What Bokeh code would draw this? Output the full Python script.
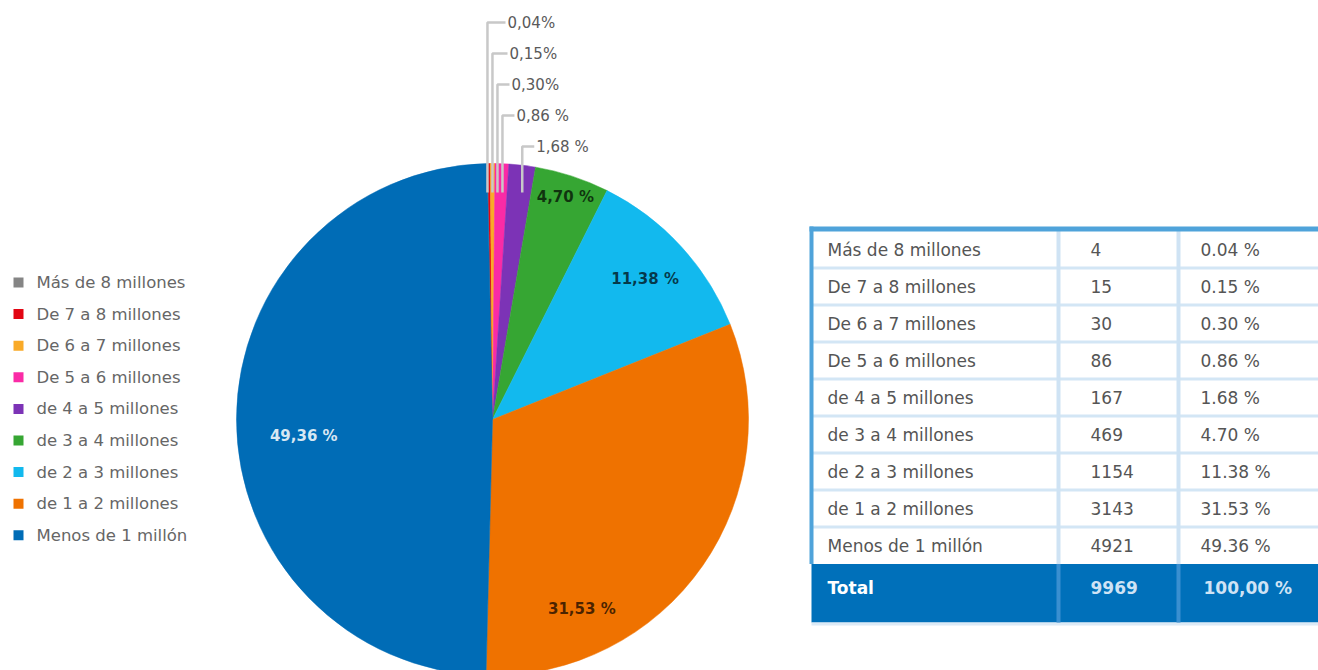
import math
from bokeh.plotting import figure
from bokeh.models import ColumnDataSource, Range1d
from bokeh.core.properties import value
from bokeh.embed import file_html
from bokeh.resources import INLINE

# ---------------- data ----------------
categories = ["Más de 8 millones", "De 7 a 8 millones", "De 6 a 7 millones",
              "De 5 a 6 millones", "de 4 a 5 millones", "de 3 a 4 millones",
              "de 2 a 3 millones", "de 1 a 2 millones", "Menos de 1 millón"]
counts = [4, 15, 30, 86, 167, 469, 1154, 3143, 4921]
pct_table = ["0.04 %", "0.15 %", "0.30 %", "0.86 %", "1.68 %",
             "4.70 %", "11.38 %", "31.53 %", "49.36 %"]
pie_labels = ["0,04%", "0,15%", "0,30%", "0,86 %", "1,68 %",
              "4,70 %", "11,38 %", "31,53 %", "49,36 %"]
total_row = ["Total", "9969", "100,00 %"]
colors = ["#858585", "#e20613", "#f9aa28", "#fa2ba6", "#7c33b6",
          "#36a633", "#12b9ee", "#ef7200", "#006cb6"]

FONT = value("DejaVu Sans")
W, H = 1318, 670


def Y(v):
    return H - v


p = figure(width=W, height=H, x_range=Range1d(0, W), y_range=Range1d(0, H),
           output_backend="svg", toolbar_location=None,
           x_axis_type=None, y_axis_type=None, min_border=0,
           outline_line_color=None)
p.background_fill_color = "white"
p.border_fill_color = "white"

# ---------------- pie ----------------
CX, CY, R = 492, 419, 256
ROT = -1.2  # degrees
total = sum(counts)
cum = [0.0]
for c in counts:
    cum.append(cum[-1] + c / total)

starts, ends, mids = [], [], []
for i in range(len(counts)):
    t0 = 360 * cum[i] + ROT
    t1 = 360 * cum[i + 1] + ROT
    starts.append(math.pi / 2 - math.radians(t1))
    ends.append(math.pi / 2 - math.radians(t0))
    mids.append((t0 + t1) / 2)

pie_src = ColumnDataSource(dict(x=[CX] * len(counts), y=[Y(CY)] * len(counts),
                                s=starts, e=ends, c=colors))
p.wedge(x="x", y="y", radius=R, start_angle="s", end_angle="e",
        fill_color="c", line_color="c", line_width=0.5, source=pie_src)

# outer leader labels (small slices)
xs, ys, tx, ty, tt = [], [], [], [], []
prev = -1e9
for i in range(5):
    vx = CX + R * math.sin(math.radians(mids[i]))
    vx = max(vx, prev + 5)
    prev = vx
    ly = 22 + 31 * i
    hx = max(vx + 12, 505 + 2 * i)
    xs.append([vx, vx, hx])
    ys.append([Y(192), Y(ly), Y(ly)])
    tx.append(hx + 2)
    ty.append(Y(ly))
    tt.append(pie_labels[i])
p.multi_line(xs=xs, ys=ys, line_color="#c8c8c8", line_width=2.5)
p.text(x=tx, y=ty, text=tt, text_font=FONT, text_font_size="15px",
       text_color="#5a5a5a", text_align="left", text_baseline="middle")

# inner labels
r_fac = [0.914, 0.81, 0.82, 0.74]
a_off = [0, 0, 30, -5]
ix, iy, it, ic, ia = [], [], [], [], []
for k, i in enumerate(range(5, 9)):
    a = math.radians(mids[i] + a_off[k])
    ix.append(CX + R * r_fac[k] * math.sin(a))
    iy.append(Y(CY - R * r_fac[k] * math.cos(a)))
    it.append(pie_labels[i])
    ic.append("white" if i == 8 else "black")
    ia.append(0.85 if i == 8 else 0.7)
p.text(x=ix, y=iy, text=it, text_color=ic, text_alpha=ia, text_font=FONT,
       text_font_size="15px", text_font_style="bold", text_align="center",
       text_baseline="middle")

# ---------------- legend ----------------
lg_y = [Y(282 + 31.6 * i) for i in range(len(categories))]
p.rect(x=[18] * len(categories), y=lg_y, width=10, height=10,
       fill_color=colors, line_color=None)
p.text(x=[36] * len(categories), y=lg_y, text=categories, text_font=FONT,
       text_font_size="16.5px", text_color="#666666", text_align="left",
       text_baseline="middle")

# ---------------- table ----------------
TL, TR = 811, W
ROW0, RH = 230.5, 37
n = len(categories)
tot_top = ROW0 + n * RH
tot_bot = 622
C1, C2 = 1058, 1178

# white body
p.quad(left=[TL], right=[TR], top=[Y(ROW0)], bottom=[Y(tot_top)],
       fill_color="white", line_color=None)
# row dividers
div_y = [ROW0 + RH * (i + 1) for i in range(n - 1)]
p.quad(left=[TL] * len(div_y), right=[TR] * len(div_y),
       top=[Y(d - 1.5) for d in div_y], bottom=[Y(d + 1.5) for d in div_y],
       fill_color="#d3e6f5", line_color=None)
# total row
p.quad(left=[TL], right=[TR], top=[Y(tot_top)], bottom=[Y(tot_bot)],
       fill_color="#0070ba", line_color=None)
p.quad(left=[TL], right=[TR], top=[Y(tot_bot)], bottom=[Y(tot_bot + 3)],
       fill_color="#dceaf6", line_color=None)
# column dividers
p.quad(left=[C1 - 2, C2 - 2], right=[C1 + 2, C2 + 2],
       top=[Y(ROW0)] * 2, bottom=[Y(tot_top)] * 2,
       fill_color="#cfe3f4", line_color=None)
p.quad(left=[C1 - 2, C2 - 2], right=[C1 + 2, C2 + 2],
       top=[Y(tot_top)] * 2, bottom=[Y(tot_bot)] * 2,
       fill_color="#3a8fd0", line_color=None)
# outer frame (top + left)
p.quad(left=[TL - 2], right=[TR], top=[Y(226)], bottom=[Y(231)],
       fill_color="#4fa3da", line_color=None)
p.quad(left=[TL - 2], right=[TL + 2], top=[Y(226)], bottom=[Y(tot_top)],
       fill_color="#4fa3da", line_color=None)

row_y = [Y(ROW0 + RH * i + RH / 2) for i in range(n)]
tstyle = dict(text_font=FONT, text_font_size="17px", text_color="#555555",
              text_align="left", text_baseline="middle")
p.text(x=[827] * n, y=row_y, text=categories, **tstyle)
p.text(x=[1090] * n, y=row_y, text=[str(c) for c in counts], **tstyle)
p.text(x=[1200] * n, y=row_y, text=pct_table, **tstyle)

ty_tot = Y(587)
p.text(x=[827], y=[ty_tot], text=[total_row[0]], text_font=FONT,
       text_font_size="17px", text_font_style="bold", text_color="white",
       text_align="left", text_baseline="middle")
p.text(x=[1090, 1203], y=[ty_tot, ty_tot], text=total_row[1:], text_font=FONT,
       text_font_size="17px", text_font_style="bold", text_color="#cfe3f5",
       text_align="left", text_baseline="middle")

open("out.html", "w").write(file_html(p, INLINE))
